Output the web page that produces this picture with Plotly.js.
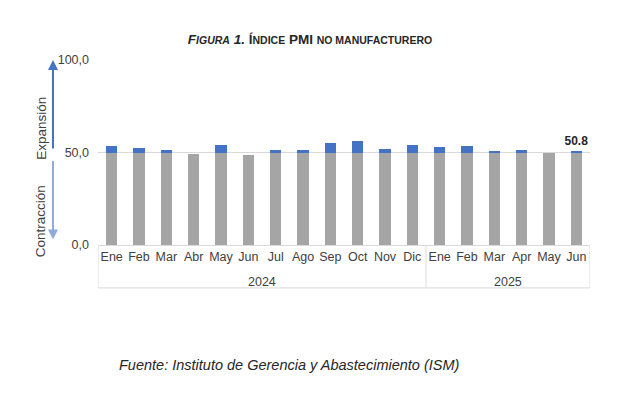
<!DOCTYPE html>
<html><head><meta charset="utf-8">
<script src="https://cdn.plot.ly/plotly-3.0.1.min.js"></script>
<style>html,body{margin:0;padding:0;background:#fff;}#chart{width:620px;height:395px;}</style>
</head><body><div id="chart"></div>
<script>
const years = ["2024","2024","2024","2024","2024","2024","2024","2024","2024","2024","2024","2024","2025","2025","2025","2025","2025","2025"];
const months = ["Ene","Feb","Mar","Abr","May","Jun","Jul","Ago","Sep","Oct","Nov","Dic","Ene","Feb","Mar","Apr","May","Jun"];
const pmi = [53.4,52.6,51.4,49.4,53.8,48.8,51.4,51.5,54.9,56.0,52.1,54.1,52.8,53.5,50.8,51.6,49.9,50.8];
const threshold = 50;

const idx = months.map((m,i) => i);
const base = pmi.map(v => Math.min(v, threshold));
const above = pmi.map(v => Math.max(v - threshold, 0));
const labels = pmi.map((v,i) => i === pmi.length-1 ? v.toFixed(1) : "");

// year groups
const groups = [];
years.forEach((y,i) => {
  if (!groups.length || groups[groups.length-1].year !== y) groups.push({year:y, start:i, end:i});
  else groups[groups.length-1].end = i;
});

const font = "Liberation Sans, Arial, sans-serif";
const traces = [
  {type:"bar", x:idx, y:base, marker:{color:"#A5A5A5"}, hoverinfo:"skip"},
  {type:"bar", x:idx, y:above, marker:{color:"#4472C4"}, text:labels, texttemplate:"<b>%{text}</b>",
   textposition:"outside", constraintext:"none", textfont:{size:12, color:"#262626", family:font}, cliponaxis:false, hoverinfo:"skip"}
];

const annotations = [
  {xref:"paper", yref:"y", x:-0.0915, y:100, ax:0, ay:90, text:"", showarrow:true,
   arrowhead:2, arrowsize:1, arrowwidth:2, arrowcolor:"#4472C4"},
  {xref:"paper", yref:"y", x:-0.0915, y:3, ax:0, ay:-80, text:"", showarrow:true,
   arrowhead:2, arrowsize:1, arrowwidth:2, arrowcolor:"#8FAADC"},
  {xref:"paper", yref:"y", x:-0.115, y:63, text:"Expansión", textangle:-90, showarrow:false,
   font:{size:13.5, color:"#404040", family:font}, xanchor:"center", yanchor:"middle"},
  {xref:"paper", yref:"y", x:-0.115, y:13, text:"Contracción", textangle:-90, showarrow:false,
   font:{size:13.5, color:"#404040", family:font}, xanchor:"center", yanchor:"middle"},
  {xref:"paper", yref:"paper", x:0.039, y:-0.65, xanchor:"left", yanchor:"middle", showarrow:false,
   text:"<i>Fuente: Instituto de Gerencia y Abastecimiento (ISM)</i>", font:{size:14.5, color:"#262626", family:font}}
];
const shapes = [
  {type:"line", xref:"paper", yref:"paper", x0:0, x1:1, y0:-0.232, y1:-0.232, line:{color:"#D9D9D9", width:1}}
];
groups.forEach(g => {
  annotations.push({xref:"x", yref:"paper", x:(g.start+g.end)/2, y:-0.2, yanchor:"middle", xanchor:"center",
    showarrow:false, text:g.year, font:{size:12.5, color:"#404040", family:font}});
  shapes.push({type:"line", xref:"x", yref:"paper", x0:g.start-0.5, x1:g.start-0.5, y0:0, y1:-0.232, line:{color:"#D9D9D9", width:1}});
});
shapes.push({type:"line", xref:"x", yref:"paper", x0:idx.length-0.5, x1:idx.length-0.5, y0:0, y1:-0.232, line:{color:"#D9D9D9", width:1}});

const layout = {
  width:620, height:395, barmode:"stack", bargap:0.58, showlegend:false,
  separators:",.",
  paper_bgcolor:"#fff", plot_bgcolor:"#fff",
  margin:{l:98, r:30, t:60, b:150},
  font:{family:font, size:12, color:"#404040"},
  title:{text:"<i><b>F<span style='font-size:10.5px'>IGURA</span> 1.</b></i> <b>Í<span style='font-size:10.5px'>NDICE</span> PMI <span style='font-size:10.5px'>NO MANUFACTURERO</span></b>",
         x:0.5, xanchor:"center", y:0.9, yanchor:"middle", font:{size:13.5, color:"#262626", family:font}},
  yaxis:{range:[0,100], dtick:50, tickformat:".1f", showgrid:true, gridcolor:"#D9D9D9", gridwidth:1,
         zeroline:false, showline:false, ticks:"", ticklabelstandoff:8, tickfont:{size:12.5, color:"#404040"}, fixedrange:true},
  xaxis:{range:[-0.5, idx.length-0.5], tickmode:"array", tickvals:idx, ticktext:months, tickangle:0,
         showline:true, linecolor:"#D9D9D9", linewidth:1, ticks:"", showgrid:false, zeroline:false,
         tickfont:{size:12.5, color:"#404040"}, fixedrange:true},
  annotations:annotations, shapes:shapes
};
Plotly.newPlot("chart", traces, layout, {displayModeBar:false, staticPlot:true});
</script></body></html>
